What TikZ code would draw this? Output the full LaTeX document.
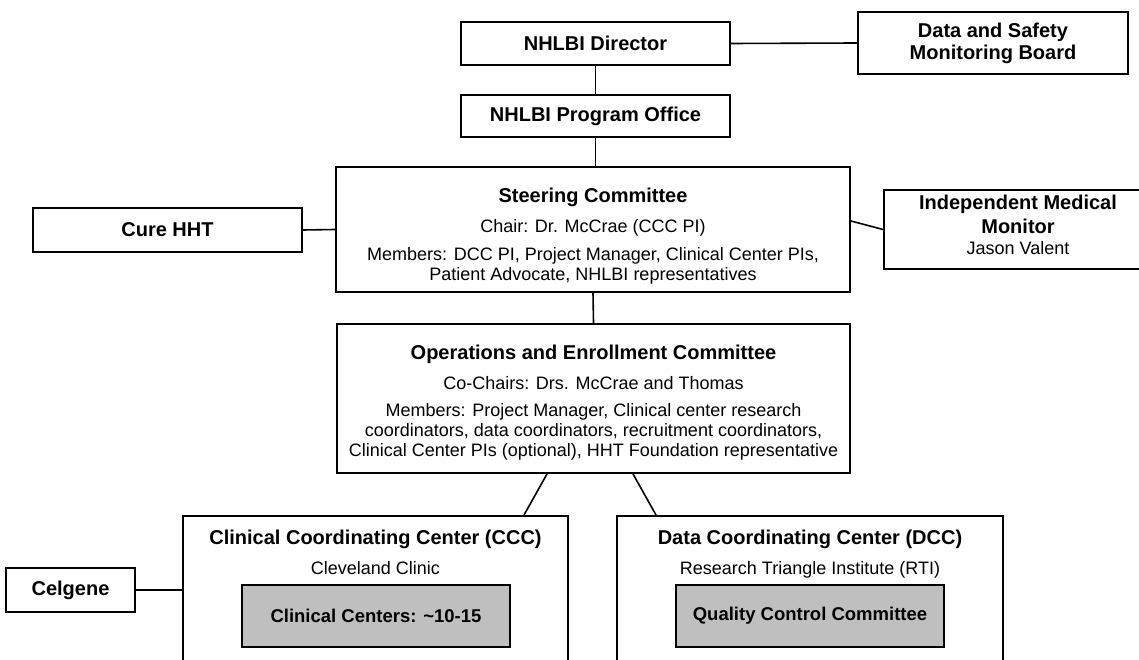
\documentclass[tikz,border=0pt]{standalone}
\usepackage{fontspec}
\setmainfont{Liberation Sans}
\usetikzlibrary{positioning}

\newcommand{\ttl}[1]{{\fontsize{20}{22}\selectfont\bfseries #1}}
\newcommand{\gttl}[1]{{\fontsize{18.5}{21}\selectfont\bfseries #1}}

\begin{document}
\begin{tikzpicture}[x=1pt,y=-1pt,
  box/.style={draw,line width=1.9pt,fill=white,inner sep=0pt,align=center,font=\fontsize{18}{21}\selectfont},
  greybox/.style={box,fill=gray!50},
  txt/.style={inner sep=0pt,align=center,font=\fontsize{18}{20}\selectfont},
  link/.style={line width=1.6pt}]
\clip (0,0) rectangle (1139,660);

\node[box,minimum width=269pt,minimum height=43pt] (dir) at (595.5,43.5) {\ttl{NHLBI Director}};
\node[box,minimum width=270pt,minimum height=62pt] (dsmb) at (993,43) {\ttl{Data and Safety}\\[1pt]\ttl{Monitoring Board}};
\node[box,minimum width=269pt,minimum height=42pt] (prog) at (595.5,116) {\ttl{NHLBI Program Office}};

\node[box,minimum width=514pt,minimum height=125pt] (steer) at (593,229.5) {};
\node[txt,below=21.4pt of steer.north] (steertxt) {\ttl{Steering Committee}\\[10pt]Chair: Dr. McCrae (CCC PI)\\[8pt]Members: DCC PI, Project Manager, Clinical Center PIs,\\Patient Advocate, NHLBI representatives};
\node[box,minimum width=269pt,minimum height=44pt] (cure) at (167.5,230) {\ttl{Cure HHT}};
\node[box,minimum width=268pt,minimum height=79pt] (imm) at (1018,229.5) {};
\node[txt,below=5.5pt of imm.north] (immtxt) {\ttl{Independent Medical}\\[4pt]\ttl{Monitor}\\[1pt]Jason Valent};

\node[box,minimum width=513pt,minimum height=149pt] (ops) at (593.5,398.5) {};
\node[txt,below=21.4pt of ops.north] (opstxt) {\ttl{Operations and Enrollment Committee}\\[10pt]Co-Chairs: Drs. McCrae and Thomas\\[7pt]Members: Project Manager, Clinical center research\\coordinators, data coordinators, recruitment coordinators,\\Clinical Center PIs (optional), HHT Foundation representative};

\node[box,minimum width=385pt,minimum height=185pt,anchor=north] (ccc) at (375.5,515) {};
\node[txt,below=14.4pt of ccc.north] (ccctxt) {\ttl{Clinical Coordinating Center (CCC)}\\[10pt]Cleveland Clinic};
\node[greybox,minimum width=268pt,minimum height=62pt] (cc) at (376,616) {\gttl{Clinical Centers: \textasciitilde10-15}};
\node[box,minimum width=386pt,minimum height=185pt,anchor=north] (dcc) at (810,515) {};
\node[txt,below=14.4pt of dcc.north] (dcctxt) {\ttl{Data Coordinating Center (DCC)}\\[10pt]Research Triangle Institute (RTI)};
\node[greybox,minimum width=268pt,minimum height=62pt] (qcc) at (810,616) {\gttl{Quality Control Committee}};
\node[box,minimum width=129pt,minimum height=44pt] (celg) at (70.5,590) {\ttl{Celgene}};

\draw[link] (dir.east) -- (dsmb.west);
\draw[link] (dir.south) -- (prog.north);
\draw[link] (prog.south) -- (prog.south |- steer.north);
\draw[link] (cure.east) -- (steer.west);
\draw[link] ([yshift=8.5pt]steer.east) -- (imm.west);
\draw[link] (steer.south) -- (ops.north);
\draw[link] ([xshift=-46.5pt]ops.south) -- ([xshift=148.5pt]ccc.north);
\draw[link] ([xshift=39.5pt]ops.south) -- ([xshift=-154pt]dcc.north);
\draw[link] (celg.east) -- (celg.east -| ccc.west);

\end{tikzpicture}
\end{document}
